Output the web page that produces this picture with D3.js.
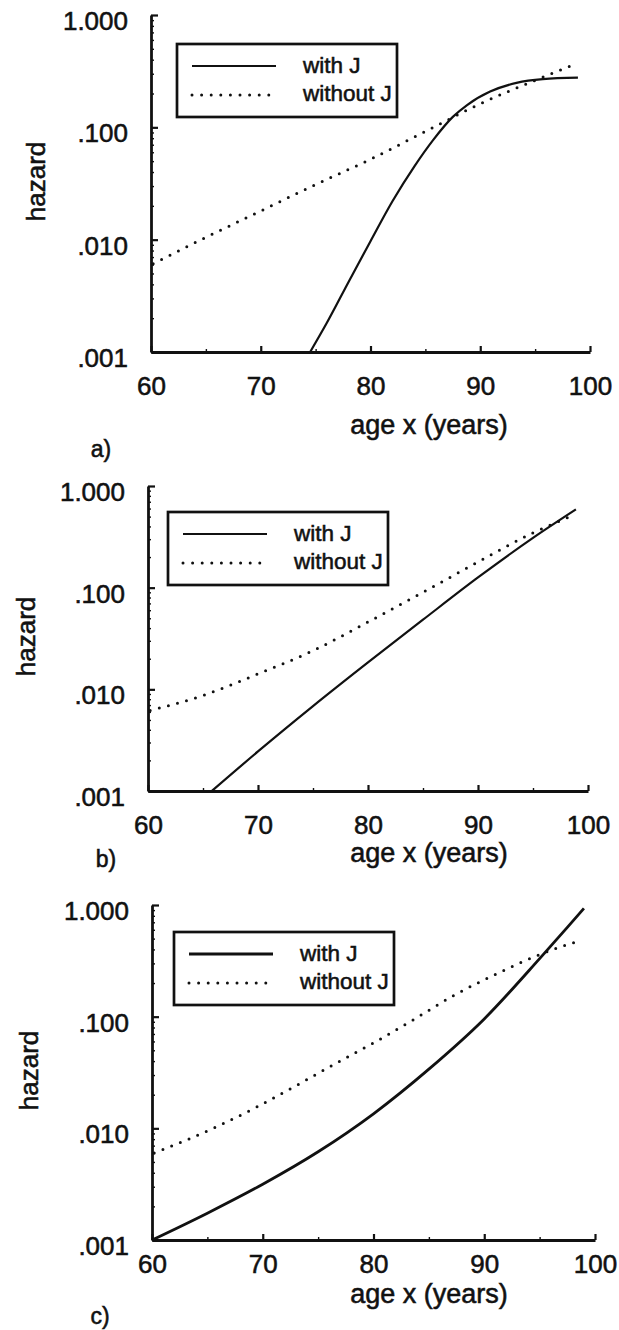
<!DOCTYPE html>
<html>
<head>
<meta charset="utf-8">
<script src="https://cdn.jsdelivr.net/npm/d3@7"></script>
<style>
  body { margin: 0; background: #fff; }
  svg { display: block; font-family: "Liberation Sans", Arial, sans-serif; }
  svg text { fill: #111; stroke: #111; stroke-width: 0.55px; }
  .axis path, .axis line { stroke: #111; }
</style>
</head>
<body>
<div id="container"></div>
<script>
// values: [age, hazard]
var withJ_a = [[74.5,0.001],[76,0.0018],[78,0.0042],[80,0.0097],[82,0.022],[84,0.045],
  [85.7,0.077],[87.5,0.124],[88.8,0.158],[90.9,0.208],[93.3,0.249],[95.7,0.269],[98.9,0.277]];
var withoutJ_a = [[60.2,0.0061],[65,0.0105],[70,0.018],[75,0.031],[80,0.052],[85,0.092],
  [90,0.162],[95,0.262],[98.2,0.351]];

var withJ_b = [[65.8,0.001],[70,0.00245],[75,0.00684],[80,0.0184],[85,0.0484],[90,0.126],
  [95,0.309],[98.9,0.589]];
var withoutJ_b = [[60.2,0.0062],[65,0.0087],[70,0.0142],[75,0.024],[80,0.046],[85,0.09],
  [90,0.179],[95,0.346],[98.5,0.506]];

var withJ_c = [[60,0.001],[65,0.00174],[70,0.00316],[75,0.00617],[80,0.0135],[85,0.0339],
  [90,0.0955],[95,0.331],[97.5,0.631],[99,0.933]];
var withoutJ_c = [[60.2,0.006],[65.9,0.0104],[69.5,0.0156],[73.1,0.0244],[76.6,0.0382],[80.2,0.0597],
  [83.8,0.0966],[87.3,0.156],[90.9,0.236],[94.5,0.344],[98.8,0.486]];

var xTicks = [60, 70, 80, 90, 100];
var xMinorTicks = [65, 75, 85, 95];
var yTicks = [1, 0.1, 0.01, 0.001];
var yTickLabels = ['1.000', '.100', '.010', '.001'];
var legendLabels = ['with J', 'without J'];
var panelNames = ['a)', 'b)', 'c)'];

// layout of each panel on the page
var panels = [
  {series: [withJ_a, withoutJ_a], left: 151, right: 590, top: 15, bottom: 352,
   xPad: 25, legend: [177, 44], hazardX: 45, titleY: 434, name: [101, 457], solidW: 2.2},
  {series: [withJ_b, withoutJ_b], left: 148, right: 588, top: 486, bottom: 791,
   xPad: 25, legend: [168, 512], hazardX: 35, titleY: 862, name: [106, 867], solidW: 2.2},
  {series: [withJ_c, withoutJ_c], left: 152, right: 595, top: 905, bottom: 1240,
   xPad: 15, legend: [174, 932], hazardX: 38, titleY: 1303, name: [100, 1324], solidW: 2.8}
];

var W = 619, H = 1330;

var svg = d3.select('#container').append('svg')
  .attr('width', W)
  .attr('height', H);

var minorY = [];
[0.001, 0.01, 0.1].forEach(function(d) {
  for (var k = 2; k <= 9; k++) minorY.push(d * k);
});

panels.forEach(function(p, i) {
  var g = svg.append('g');

  var x = d3.scaleLinear().domain([60, 100]).range([p.left, p.right]);
  var y = d3.scaleLog().domain([0.001, 1]).range([p.bottom, p.top]);

  // minor ticks first, inside the frame
  g.append('g')
    .attr('class', 'axis')
    .attr('transform', 'translate(' + p.left + ',0)')
    .call(d3.axisLeft(y).tickValues(minorY).tickSize(-3).tickFormat(''))
    .call(function(a) { a.select('.domain').remove(); })
    .selectAll('line').attr('stroke-width', 1.4);

  g.append('g')
    .attr('class', 'axis')
    .attr('transform', 'translate(0,' + p.bottom + ')')
    .call(d3.axisBottom(x).tickValues(xMinorTicks).tickSize(-3).tickFormat(''))
    .call(function(a) { a.select('.domain').remove(); })
    .selectAll('line').attr('stroke-width', 1.4);

  // main axes
  var yAxis = g.append('g')
    .attr('class', 'axis')
    .attr('transform', 'translate(' + p.left + ',0)')
    .call(d3.axisLeft(y).tickValues(yTicks).tickSizeInner(-7).tickSizeOuter(0)
      .tickPadding(23).tickFormat(function(d, j) { return yTickLabels[j]; }));
  yAxis.select('.domain').attr('stroke-width', 2.8);
  yAxis.selectAll('line').attr('stroke-width', 2.2);
  yAxis.selectAll('text')
    .attr('dy', '0.56em')
    .style('font-size', '26px');

  var xAxis = g.append('g')
    .attr('class', 'axis')
    .attr('transform', 'translate(0,' + p.bottom + ')')
    .call(d3.axisBottom(x).tickValues(xTicks).tickSizeInner(-6).tickSizeOuter(0)
      .tickPadding(p.xPad));
  xAxis.select('.domain').attr('stroke-width', 2.8);
  xAxis.selectAll('line').attr('stroke-width', 2.2);
  xAxis.selectAll('text').style('font-size', '26px');

  // axis titles
  g.append('text')
    .attr('x', 429)
    .attr('y', p.titleY)
    .attr('text-anchor', 'middle')
    .style('font-size', '27px')
    .text('age x (years)');

  g.append('text')
    .attr('transform', 'translate(' + p.hazardX + ',' + ((p.top + p.bottom) / 2 - 2) + ') rotate(-90)')
    .attr('text-anchor', 'middle')
    .style('font-size', '26px')
    .text('hazard');

  g.append('text')
    .attr('x', p.name[0])
    .attr('y', p.name[1])
    .attr('text-anchor', 'middle')
    .style('font-size', '23px')
    .text(panelNames[i]);

  // curves
  var line = d3.line()
    .x(function(d) { return x(d[0]); })
    .y(function(d) { return y(d[1]); })
    .curve(d3.curveMonotoneX);

  g.append('path')
    .datum(p.series[1])
    .attr('d', line)
    .attr('fill', 'none')
    .attr('stroke', '#111')
    .attr('stroke-width', 3)
    .attr('stroke-linecap', 'round')
    .attr('stroke-dasharray', '0 9.4');

  g.append('path')
    .datum(p.series[0])
    .attr('d', line)
    .attr('fill', 'none')
    .attr('stroke', '#111')
    .attr('stroke-width', p.solidW);

  // legend box
  var lg = g.append('g')
    .attr('transform', 'translate(' + p.legend[0] + ',' + p.legend[1] + ')');

  lg.append('rect')
    .attr('width', 220)
    .attr('height', 73)
    .attr('fill', '#fff')
    .attr('stroke', '#111')
    .attr('stroke-width', 2.7);

  lg.selectAll('.legend-line')
    .data(legendLabels).enter()
    .append('line')
      .attr('class', 'legend-line')
      .attr('x1', 15)
      .attr('x2', function(d, j) { return j == 0 ? 99 : 93; })
      .attr('y1', function(d, j) { return 22 + j * 29; })
      .attr('y2', function(d, j) { return 22 + j * 29; })
      .attr('stroke', '#111')
      .attr('stroke-width', function(d, j) { return j == 0 ? p.solidW : 3; })
      .attr('stroke-linecap', function(d, j) { return j == 0 ? 'butt' : 'round'; })
      .attr('stroke-dasharray', function(d, j) { return j == 0 ? null : '0 9.6'; });

  lg.selectAll('.legend_text')
    .data(legendLabels).enter()
    .append('text')
      .attr('class', 'legend_text')
      .attr('x', 126)
      .attr('y', function(d, j) { return 29 + j * 28; })
      .style('font-size', '22.5px')
      .text(function(d) { return d; });
});
</script>
</body>
</html>
